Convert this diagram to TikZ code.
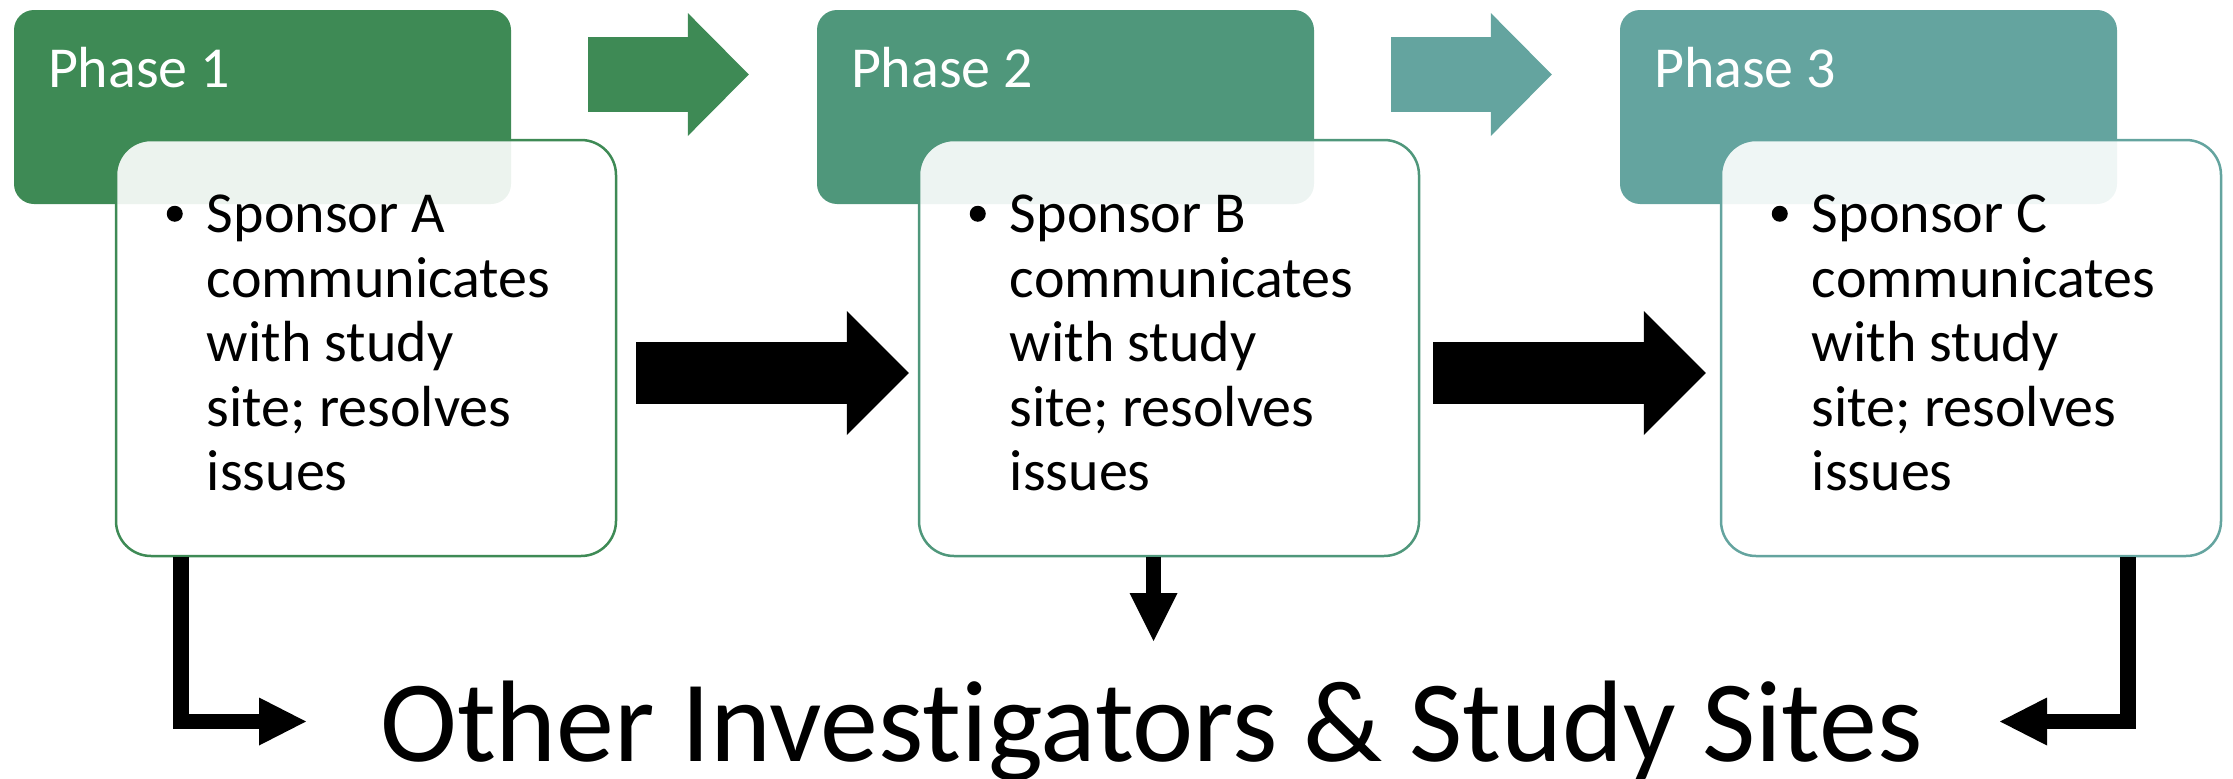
\documentclass[tikz,border=0pt]{standalone}
\usepackage{fontspec}
\setmainfont[Ligatures=NoCommon]{Carlito}
\usetikzlibrary{calc}

\definecolor{phaseA}{RGB}{62,138,85}
\definecolor{phaseB}{RGB}{79,151,123}
\definecolor{phaseC}{RGB}{100,164,159}

\tikzset{
  phasebox/.style={rectangle, rounded corners=20pt, minimum width=497pt,
    minimum height=194pt, inner sep=0pt, draw=none},
  detailbox/.style={rectangle, rounded corners=35pt, minimum width=500pt,
    minimum height=416pt, inner sep=0pt, fill=white, fill opacity=0.9,
    line width=2.5pt},
  phaselabel/.style={text=white, font=\fontsize{58}{70}\selectfont,
    inner sep=0pt, anchor=base west},
  itemtext/.style={font=\fontsize{58}{64.5}\selectfont, inner sep=0pt,
    anchor=base west},
  itemdot/.style={circle, fill=black, minimum size=16pt, inner sep=0pt},
  flowshaft/.style={line width=62pt},
  pointer/.style={line width=15.5pt, line join=miter},
}

\newcommand\itemlines[1]{\begin{tabular}[t]{@{}l@{}}#1\end{tabular}}

\begin{document}
\begin{tikzpicture}[x=1pt, y=-1pt]
\useasboundingbox (0,0) rectangle (2233,779);

% phase headers
\node[phasebox, fill=phaseA] (p1) at (262.5,107) {};
\node[phasebox, fill=phaseB] (p2) at (1065.5,107) {};
\node[phasebox, fill=phaseC] (p3) at (1868.5,107) {};

% green chevrons between the headers
\coordinate (ga1) at ($(p1.east)+(77,-32.5)$);
\coordinate (ga1t) at ($(p2.west)+(-68,-32.5)$);
\draw[line width=75pt, phaseA] (ga1) -- ($(ga1t)+(-60,0)$);
\fill[phaseA] (ga1t) -- ++(-61,-61.5) -- ++(0,123) -- cycle;

\coordinate (ga2) at ($(p2.east)+(77,-32.5)$);
\coordinate (ga2t) at ($(p3.west)+(-68,-32.5)$);
\draw[line width=75pt, phaseC] (ga2) -- ($(ga2t)+(-60,0)$);
\fill[phaseC] (ga2t) -- ++(-61,-61.5) -- ++(0,123) -- cycle;

% detail boxes
\node[detailbox, draw=phaseA] (w1) at (366,348) {};
\node[detailbox, draw=phaseB] (w2) at (1169,348) {};
\node[detailbox, draw=phaseC] (w3) at (1971,348) {};

% header labels
\node[phaselabel] (t1) at ($(p1.north west)+(34,78)$) {Phase 1};
\node[phaselabel] (t2) at ($(p2.north west)+(34,78)$) {Phase 2};
\node[phaselabel] (t3) at ($(p3.north west)+(34,78)$) {Phase 3};

% bullet items
\node[itemdot] (d1) at ($(w1.north west)+(60,75)$) {};
\node[itemdot] (d2) at ($(w2.north west)+(60,75)$) {};
\node[itemdot] (d3) at ($(w3.north west)+(60,75)$) {};
\node[itemtext] (i1) at ($(w1.north west)+(92,94)$)
  {\itemlines{Sponsor A\\communicates\\with study\\site; resolves\\issues}};
\node[itemtext] (i2) at ($(w2.north west)+(92,94)$)
  {\itemlines{Sponsor B\\communicates\\with study\\site; resolves\\issues}};
\node[itemtext] (i3) at ($(w3.north west)+(92,94)$)
  {\itemlines{Sponsor C\\communicates\\with study\\site; resolves\\issues}};

% black flow arrows between detail boxes
\coordinate (ba1) at ($(w1.east)+(19,25)$);
\coordinate (ba1t) at ($(w2.west)+(-9,25)$);
\draw[flowshaft] (ba1) -- ($(ba1t)+(-61,0)$);
\fill (ba1t) -- ++(-62,-62) -- ++(0,124) -- cycle;

\coordinate (ba2) at ($(w2.east)+(13,25)$);
\coordinate (ba2t) at ($(w3.west)+(-14,25)$);
\draw[flowshaft] (ba2) -- ($(ba2t)+(-61,0)$);
\fill (ba2t) -- ++(-62,-62) -- ++(0,124) -- cycle;

% shared destination
\node[font=\fontsize{116}{130}\selectfont, inner sep=0pt, anchor=base]
  (others) at (1151.5,761) {Other Investigators \& Study Sites};

% pointers down to the shared destination
\coordinate (bl) at (306,721.5);
\draw[pointer] ($(w1.south west)+(66,0)$) |- ($(bl)+(-46,0)$);
\fill (bl) -- ++(-47,-24) -- ++(0,48) -- cycle;

\coordinate (bm) at (1153.5,641);
\draw[pointer] ($(w2.south)+(-15.5,0)$) -- ($(bm)+(0,-47)$);
\fill (bm) -- ++(-24,-48) -- ++(48,0) -- cycle;

\coordinate (br) at (2000,721.5);
\draw[pointer] ($(w3.south west)+(408,0)$) |- ($(br)+(46,0)$);
\fill (br) -- ++(47,-24) -- ++(0,48) -- cycle;
\end{tikzpicture}
\end{document}
